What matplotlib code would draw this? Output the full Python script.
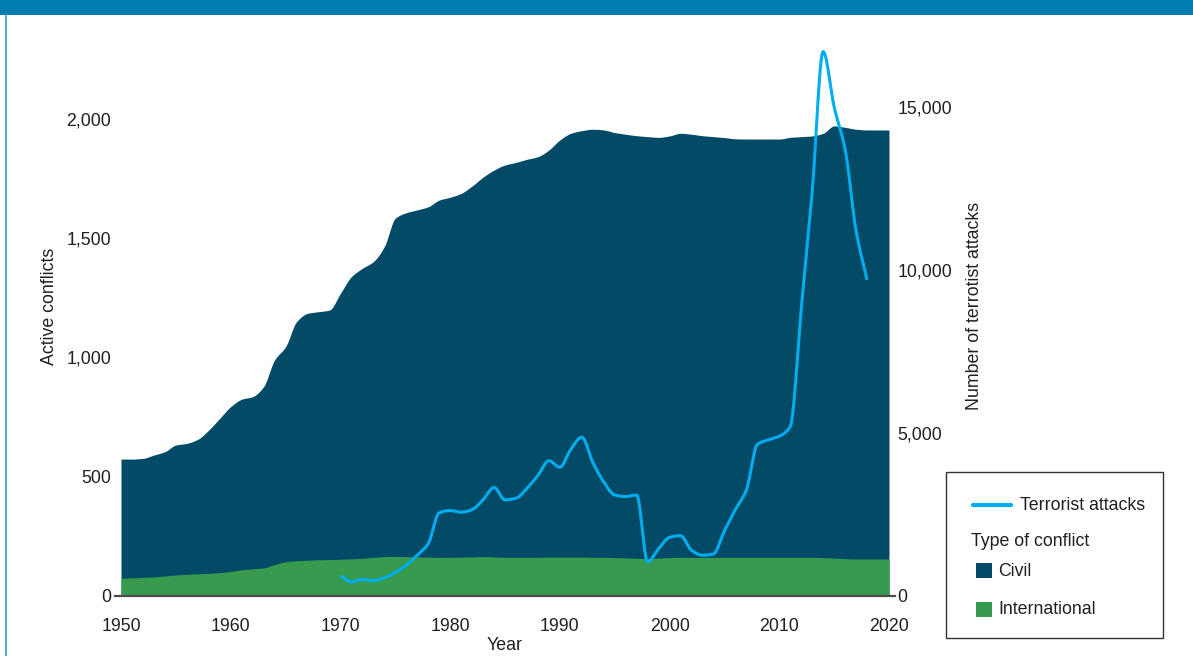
import numpy as np
import matplotlib
matplotlib.use("Agg")
import matplotlib.pyplot as plt
from matplotlib.patches import Rectangle
from matplotlib.lines import Line2D

plt.rcParams['font.family'] = ['Liberation Sans', 'DejaVu Sans']

# ---------------- data ----------------
years = list(range(1950, 2021))
international = [74, 76, 78, 80, 84, 88, 91, 93, 95, 98,
                 103, 110, 114, 118, 132, 143, 148, 150, 152, 153,
                 154, 156, 158, 162, 165, 166, 165, 164, 163, 162,
                 162, 163, 164, 165, 164, 162, 162, 162, 162, 163,
                 163, 163, 163, 162, 162, 161, 160, 158, 157, 159,
                 161, 162, 162, 162, 162, 162, 162, 162, 162, 162,
                 162, 162, 162, 162, 161, 159, 157, 155, 155, 155,
                 155]
civil = [500, 498, 499, 511, 521, 545, 549, 564, 601, 647,
         691, 715, 722, 760, 858, 902, 1002, 1035, 1040, 1046,
         1115, 1183, 1216, 1240, 1300, 1418, 1442, 1455, 1469, 1498,
         1510, 1525, 1555, 1591, 1622, 1645, 1656, 1669, 1680, 1707,
         1749, 1777, 1788, 1795, 1792, 1782, 1776, 1772, 1769, 1764,
         1768, 1778, 1774, 1768, 1764, 1760, 1755, 1754, 1754, 1754,
         1754, 1761, 1764, 1767, 1779, 1812, 1808, 1802, 1799, 1799,
         1799]

attack_years = list(range(1970, 2019))
attacks = [620, 430, 510, 470, 560, 720, 950, 1250, 1600, 2550,
           2620, 2570, 2650, 2950, 3330, 2950, 3000, 3300, 3700, 4150,
           3950, 4500, 4870, 4100, 3500, 3100, 3050, 3100, 1050, 1450,
           1800, 1850, 1400, 1250, 1290, 2000, 2650, 3250, 4650, 4790,
           4900, 5200, 8800, 12400, 16700, 15000, 13700, 11200, 9700]

left_ticks = [0, 500, 1000, 1500, 2000]
right_ticks = [0, 5000, 10000, 15000]
x_ticks = [1950, 1960, 1970, 1980, 1990, 2000, 2010, 2020]

# ---------------- style ----------------
C_CIVIL = '#024a66'
C_INTL = '#389a4f'
C_LINE = '#00aeef'
C_HEADER = '#007db0'
C_TEXT = '#231f20'
FS = 12.8


def smooth(x, y, n=16):
    """monotone cubic path through the points (for drawing only)"""
    x = np.asarray(x, float)
    y = np.asarray(y, float)
    h = np.diff(x)
    d = np.diff(y) / h
    m = np.zeros_like(y)
    m[0], m[-1] = d[0], d[-1]
    for i in range(1, len(y) - 1):
        if d[i - 1] * d[i] <= 0:
            m[i] = 0.0
        else:
            w1 = 2 * h[i] + h[i - 1]
            w2 = h[i] + 2 * h[i - 1]
            m[i] = (w1 + w2) / (w1 / d[i - 1] + w2 / d[i])
    xs, ys = [], []
    t = np.linspace(0, 1, n, endpoint=False)
    h00 = 2 * t**3 - 3 * t**2 + 1
    h10 = t**3 - 2 * t**2 + t
    h01 = -2 * t**3 + 3 * t**2
    h11 = t**3 - t**2
    for i in range(len(h)):
        xs.append(x[i] + t * h[i])
        ys.append(h00 * y[i] + h10 * h[i] * m[i] + h01 * y[i + 1] + h11 * h[i] * m[i + 1])
    xs.append([x[-1]])
    ys.append([y[-1]])
    return np.concatenate(xs), np.concatenate(ys)


W, H = 1193, 656
fig = plt.figure(figsize=(W / 100, H / 100), dpi=100)


def fx(x):
    return x / W


def fy(y):
    return 1 - y / H


# axes geometry (pixel): x 121..889, y 16..596
ax = fig.add_axes([fx(121), fy(596), fx(889) - fx(121), fy(16) - fy(596)])
ax2 = ax.twinx()

intl = np.array(international, float)
tot = intl + np.array(civil, float)
xs, yi = smooth(years, intl)
_, yt = smooth(years, tot)
ax.fill_between(xs, 0, yt, color=C_CIVIL, lw=0, label='Civil')
ax.fill_between(xs, 0, yi, color=C_INTL, lw=0, label='International')

lx, ly = smooth(attack_years, attacks)
ax2.plot(lx, ly, color=C_LINE, lw=2.2, solid_capstyle='butt', clip_on=False)

left_px_per_unit = 477 / 2000
right_px_per_unit = 489 / 15000
ax.set_ylim(0, 580 / left_px_per_unit)
ax2.set_ylim(0, 580 / right_px_per_unit)
ax.set_xlim(1950, 2020)

ax.set_yticks(left_ticks)
ax.set_yticklabels([f'{v:,}' for v in left_ticks])
ax2.set_yticks(right_ticks)
ax2.set_yticklabels([f'{v:,}' for v in right_ticks])
ax.set_xticks(x_ticks)
ax.set_xticklabels([str(v) for v in x_ticks])

for a in (ax, ax2):
    for s in a.spines.values():
        s.set_visible(False)
ax.tick_params(axis='y', length=0, pad=7, labelsize=FS, labelcolor=C_TEXT)
ax2.tick_params(axis='y', length=0, pad=6, labelsize=FS, labelcolor=C_TEXT)
ax.tick_params(axis='x', length=0, pad=16, labelsize=FS, labelcolor=C_TEXT)

# baseline
ax.add_line(Line2D([-0.008, 1.008], [0, 0], transform=ax.transAxes,
                   color='#4d4d4d', lw=1.6, clip_on=False, zorder=5))

ax.set_ylabel('Active conflicts', fontsize=FS, color=C_TEXT, labelpad=6)
ax2.set_ylabel('Number of terrotist attacks', fontsize=FS, color=C_TEXT, labelpad=10)
ax.set_xlabel('Year', fontsize=FS, color=C_TEXT, labelpad=1)

# header and frame
fig.add_artist(Rectangle((0, fy(15)), 1, 15 / H, transform=fig.transFigure,
                         color=C_HEADER, lw=0))
fig.add_artist(Line2D([fx(6.5), fx(6.5)], [fy(15), 0], transform=fig.transFigure,
                      color='#3a9ccc', lw=1.2))

# legend (manual)
fig.add_artist(Rectangle((fx(946), fy(638)), fx(1163) - fx(946), fy(472) - fy(638),
                         transform=fig.transFigure, facecolor='white',
                         edgecolor='#333333', lw=1.0))
fig.add_artist(Line2D([fx(973), fx(1011)], [fy(505), fy(505)], transform=fig.transFigure,
                      color=C_LINE, lw=3.0, solid_capstyle='round'))
fig.text(fx(1020), fy(505), 'Terrorist attacks', fontsize=FS, color=C_TEXT,
         va='center', ha='left')
fig.text(fx(971), fy(541), 'Type of conflict', fontsize=FS, color=C_TEXT,
         va='center', ha='left')
fig.add_artist(Rectangle((fx(976), fy(578)), fx(992) - fx(976), fy(563) - fy(578),
                         transform=fig.transFigure, color=C_CIVIL, lw=0))
fig.text(fx(998), fy(571), 'Civil', fontsize=FS, color=C_TEXT, va='center', ha='left')
fig.add_artist(Rectangle((fx(976), fy(617)), fx(992) - fx(976), fy(602) - fy(617),
                         transform=fig.transFigure, color=C_INTL, lw=0))
fig.text(fx(998), fy(609), 'International', fontsize=FS, color=C_TEXT,
         va='center', ha='left')

fig.savefig('out.png', dpi=100)
